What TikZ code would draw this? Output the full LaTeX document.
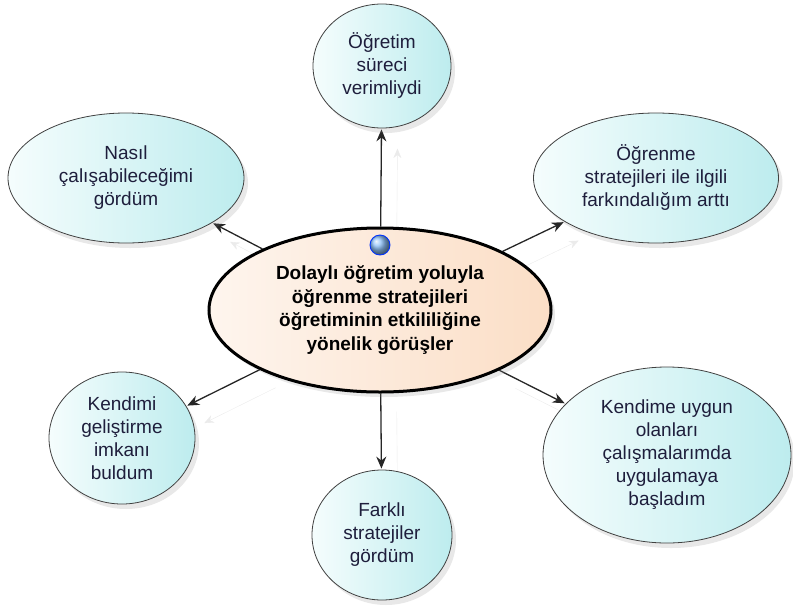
\documentclass[tikz,border=0pt]{standalone}
\usepackage{fontspec}
\setmainfont{Liberation Sans}
\usetikzlibrary{shapes.geometric,shadows,arrows.meta,backgrounds}

\definecolor{ideaDark}{HTML}{BDECEE}
\definecolor{ideaLight}{HTML}{F5FDFD}
\definecolor{coreLight}{HTML}{FEF5EE}
\definecolor{coreDark}{HTML}{FBDEC6}
\definecolor{ballBlue}{HTML}{8EC2FA}
\definecolor{ink}{HTML}{1E1E3C}
\definecolor{ghost}{HTML}{EBEBEB}

\begin{document}
\begin{tikzpicture}[x=1pt,y=-1pt,>={Stealth[length=12pt,width=10pt]},shorten >=1pt,
  view/.style={ellipse,draw=black!75,line width=0.8pt,left color=ideaLight,right color=ideaDark,
    drop shadow={shadow xshift=4pt,shadow yshift=-5pt,opacity=.18},
    inner sep=0pt,align=center,text=ink,font=\fontsize{19}{23}\selectfont},
  core/.style={ellipse,draw=black,line width=3pt,left color=coreLight,right color=coreDark,
    drop shadow={shadow xshift=4pt,shadow yshift=-5pt,opacity=.18},
    inner sep=0pt,align=center,font=\fontsize{19}{23.5}\selectfont\bfseries},
  link/.style={->,line width=1.3pt,black!85,
    preaction={draw=ghost,transform canvas={xshift=16pt,yshift=-18pt}}}]
  \useasboundingbox (0,0) rectangle (793,606);

  \node[core,minimum width=342pt,minimum height=164pt] (core) at (380,310)
    {Dolaylı öğretim yoluyla\\öğrenme stratejileri\\öğretiminin etkililiğine\\yönelik görüşler};
  \node[circle,ball color=ballBlue,draw=blue!80!cyan,line width=0.9pt,
    minimum size=20pt,inner sep=0pt] (dot) at (380,245) {};

  \node[view,minimum width=138pt,minimum height=124pt] (verim) at (382,66)
    {Öğretim\\süreci\\verimliydi};
  \node[view,minimum width=245pt,minimum height=130pt] (fark) at (656,178)
    {Öğrenme\\stratejileri ile ilgili\\farkındalığım arttı};
  \node[view,minimum width=236pt,minimum height=130pt] (nasil) at (126,178)
    {Nasıl\\çalışabileceğimi\\gördüm};
  \node[view,minimum width=146pt,minimum height=132pt] (imkan) at (122,438)
    {Kendimi\\geliştirme\\imkanı\\buldum};
  \node[view,minimum width=140pt,minimum height=130pt] (farkli) at (382,535)
    {Farklı\\stratejiler\\gördüm};
  \node[view,minimum width=248pt,minimum height=176pt] (uygun) at (667,455)
    {Kendime uygun\\olanları\\çalışmalarımda\\uygulamaya\\başladım};

  % connectors go under the bubbles
  \begin{scope}[on background layer]
    \draw[link] (core) -- (verim);
    \draw[link] (core) -- (fark);
    \draw[link] (core) -- (nasil);
    \draw[link] (core) -- (imkan);
    \draw[link] (core) -- (farkli);
    \draw[link] (core) -- (uygun);
  \end{scope}
\end{tikzpicture}
\end{document}
